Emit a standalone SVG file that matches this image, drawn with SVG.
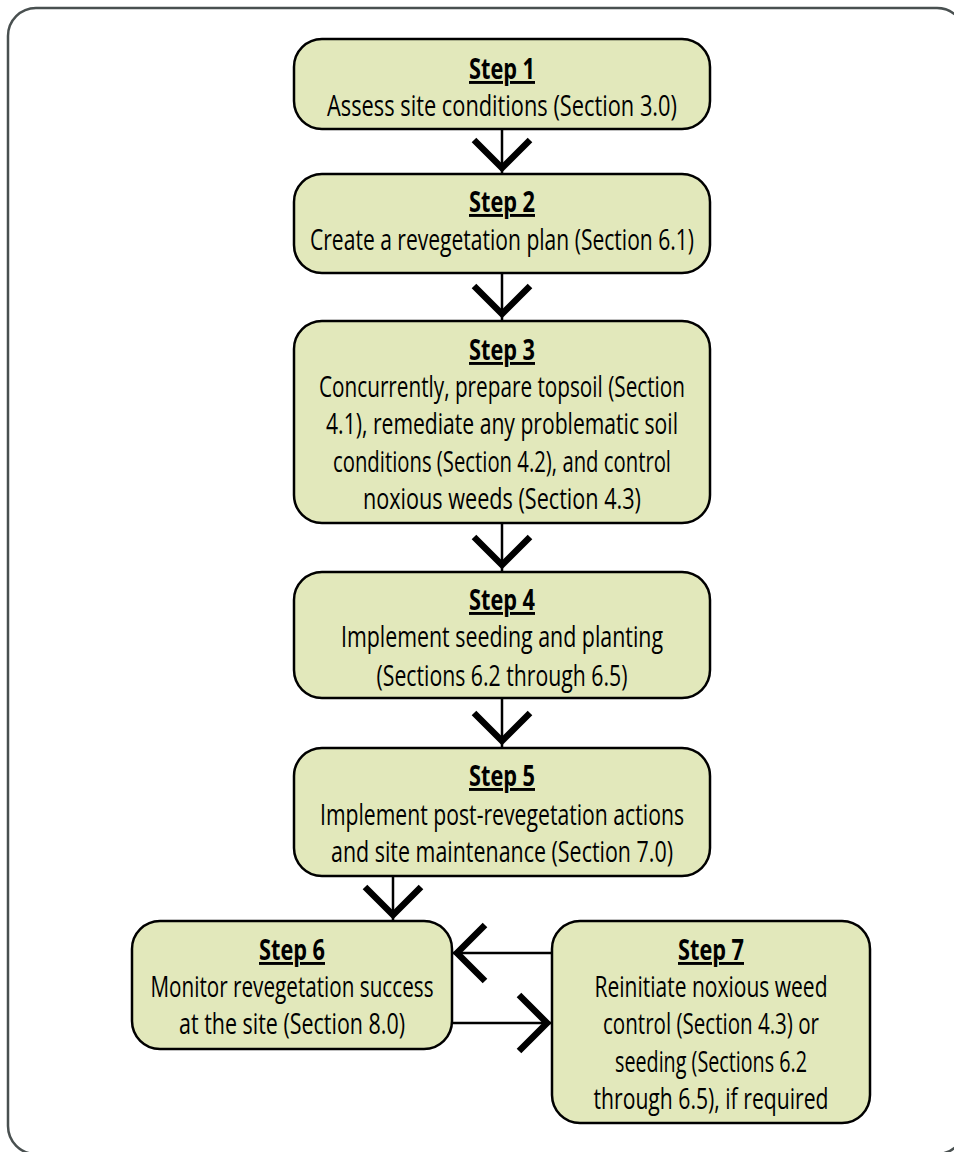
<svg xmlns="http://www.w3.org/2000/svg" width="954" height="1152" viewBox="0 0 954 1152">
<style>
.frame{fill:#ffffff;stroke:#495050;stroke-width:2.5}
.box{fill:#e2e8bb;stroke:#000000;stroke-width:2.5}
.t{font-family:"Open Sans","Liberation Sans",Arial,sans-serif;font-size:29px;fill:#000000;text-anchor:middle}
.h{font-weight:bold;text-decoration:underline}
.ln{stroke:#000000;stroke-width:2.5;fill:none}
.chev{stroke:#000000;stroke-width:6.5;fill:none;stroke-linejoin:miter;stroke-miterlimit:10}
</style>
<rect x="0" y="0" width="954" height="1152" fill="#ffffff"/>
<rect class="frame" x="8" y="8" width="957" height="1146" rx="28" ry="28"/>
<g id="connectors">
  <line class="ln" x1="502" y1="129" x2="502" y2="174"/>
  <polyline class="chev" points="474,140 502,168 530,140"/>
  <line class="ln" x1="502" y1="273" x2="502" y2="321"/>
  <polyline class="chev" points="474,286 502,314 530,286"/>
  <line class="ln" x1="502" y1="523" x2="502" y2="572"/>
  <polyline class="chev" points="474,537 502,565 530,537"/>
  <line class="ln" x1="502" y1="698" x2="502" y2="748"/>
  <polyline class="chev" points="474,713 502,741 530,713"/>
  <line class="ln" x1="393" y1="876" x2="393" y2="921"/>
  <polyline class="chev" points="365,887 393,915 421,887"/>
  <line class="ln" x1="552" y1="953" x2="452" y2="953"/>
  <polyline class="chev" points="485,925 457,953 485,981"/>
  <line class="ln" x1="452" y1="1023" x2="552" y2="1023"/>
  <polyline class="chev" points="519,995 547,1023 519,1051"/>
</g>
<g id="step1">
  <rect class="box" x="294" y="39" width="416" height="90" rx="28" ry="28"/>
  <text class="t h" x="502" y="79" textLength="66" lengthAdjust="spacingAndGlyphs">Step 1</text>
  <text class="t" x="502" y="116" textLength="350" lengthAdjust="spacingAndGlyphs">Assess site conditions (Section 3.0)</text>
</g>
<g id="step2">
  <rect class="box" x="294" y="174" width="416" height="99" rx="28" ry="28"/>
  <text class="t h" x="502" y="212" textLength="66" lengthAdjust="spacingAndGlyphs">Step 2</text>
  <text class="t" x="502" y="250" textLength="384" lengthAdjust="spacingAndGlyphs">Create a revegetation plan (Section 6.1)</text>
</g>
<g id="step3">
  <rect class="box" x="294" y="321" width="416" height="202" rx="28" ry="28"/>
  <text class="t h" x="502" y="360" textLength="66" lengthAdjust="spacingAndGlyphs">Step 3</text>
  <text class="t" x="502" y="397" textLength="366" lengthAdjust="spacingAndGlyphs">Concurrently, prepare topsoil (Section</text>
  <text class="t" x="502" y="434" textLength="352" lengthAdjust="spacingAndGlyphs">4.1), remediate any problematic soil</text>
  <text class="t" x="502" y="472" textLength="338" lengthAdjust="spacingAndGlyphs">conditions (Section 4.2), and control</text>
  <text class="t" x="502" y="509" textLength="278" lengthAdjust="spacingAndGlyphs">noxious weeds (Section 4.3)</text>
</g>
<g id="step4">
  <rect class="box" x="294" y="572" width="416" height="126" rx="28" ry="28"/>
  <text class="t h" x="502" y="610" textLength="66" lengthAdjust="spacingAndGlyphs">Step 4</text>
  <text class="t" x="502" y="647" textLength="322" lengthAdjust="spacingAndGlyphs">Implement seeding and planting</text>
  <text class="t" x="502" y="686" textLength="251" lengthAdjust="spacingAndGlyphs">(Sections 6.2 through 6.5)</text>
</g>
<g id="step5">
  <rect class="box" x="294" y="748" width="416" height="128" rx="28" ry="28"/>
  <text class="t h" x="502" y="786" textLength="66" lengthAdjust="spacingAndGlyphs">Step 5</text>
  <text class="t" x="502" y="825" textLength="364" lengthAdjust="spacingAndGlyphs">Implement post-revegetation actions</text>
  <text class="t" x="502" y="862" textLength="342" lengthAdjust="spacingAndGlyphs">and site maintenance (Section 7.0)</text>
</g>
<g id="step6">
  <rect class="box" x="132" y="921" width="320" height="128" rx="28" ry="28"/>
  <text class="t h" x="292" y="960" textLength="66" lengthAdjust="spacingAndGlyphs">Step 6</text>
  <text class="t" x="292" y="997" textLength="283" lengthAdjust="spacingAndGlyphs">Monitor revegetation success</text>
  <text class="t" x="292" y="1034" textLength="226" lengthAdjust="spacingAndGlyphs">at the site (Section 8.0)</text>
</g>
<g id="step7">
  <rect class="box" x="552" y="921" width="318" height="202" rx="28" ry="28"/>
  <text class="t h" x="711" y="960" textLength="66" lengthAdjust="spacingAndGlyphs">Step 7</text>
  <text class="t" x="711" y="997" textLength="233" lengthAdjust="spacingAndGlyphs">Reinitiate noxious weed</text>
  <text class="t" x="711" y="1034" textLength="216" lengthAdjust="spacingAndGlyphs">control (Section 4.3) or</text>
  <text class="t" x="711" y="1072" textLength="192" lengthAdjust="spacingAndGlyphs">seeding (Sections 6.2</text>
  <text class="t" x="711" y="1109" textLength="235" lengthAdjust="spacingAndGlyphs">through 6.5), if required</text>
</g>
</svg>
